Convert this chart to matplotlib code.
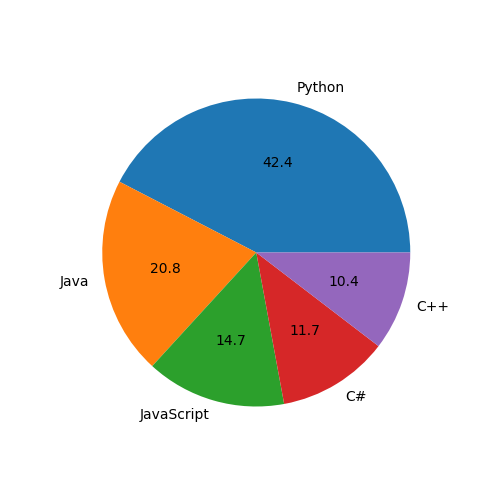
import matplotlib
matplotlib.use("Agg")
import matplotlib.pyplot as plt

languages = ["Python", "Java", "JavaScript", "C#", "C++"]
shares = [42.4, 20.8, 14.7, 11.7, 10.4]

fig, ax = plt.subplots(figsize=(5, 5), dpi=100)
ax.pie(shares, labels=languages, autopct="%.1f")
fig.savefig("out.png")
